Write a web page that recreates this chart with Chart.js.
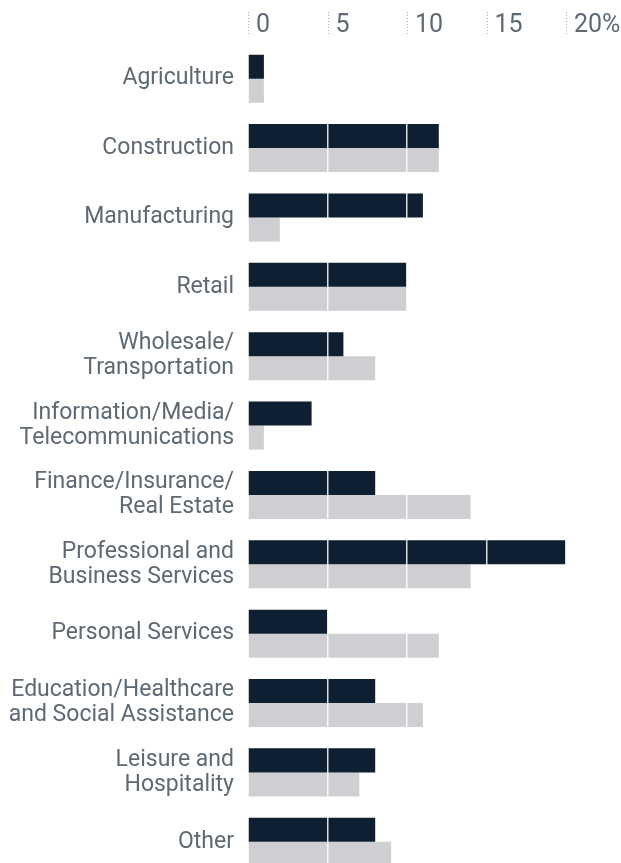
<!DOCTYPE html>
<html>
<head>
<meta charset="utf-8">
<script src="https://cdn.jsdelivr.net/npm/chart.js@4/dist/chart.umd.min.js"></script>
<style>
  html, body { margin: 0; padding: 0; background: #fff; overflow: hidden; }
  #wrap { position: relative; width: 621px; height: 903px; }
</style>
</head>
<body>
<div id="wrap"><canvas id="chart"></canvas></div>
<script>
const categories = [
  "Agriculture",
  "Construction",
  "Manufacturing",
  "Retail",
  ["Wholesale/", "Transportation"],
  ["Information/Media/", "Telecommunications"],
  ["Finance/Insurance/", "Real Estate"],
  ["Professional and", "Business Services"],
  "Personal Services",
  ["Education/Healthcare", "and Social Assistance"],
  ["Leisure and", "Hospitality"],
  "Other"
];

const darkValues = [1, 12, 11, 10, 6, 4, 8, 20, 5, 8, 8, 8];
const grayValues = [1, 12, 2, 10, 8, 1, 14, 14, 12, 11, 7, 9];

const xTicks = [0, 5, 10, 15, 20];

const DARK = "#0d1f31";
const GRAY = "#cfced3";
const TEXT = "#5f6973";

// dotted tick marks above the axis labels
const tickMarks = {
  id: "tickMarks",
  afterDraw(chart) {
    const ctx = chart.ctx;
    const x = chart.scales.x;
    ctx.save();
    ctx.strokeStyle = "#a9adb2";
    ctx.lineWidth = 1;
    ctx.setLineDash([1, 2]);
    xTicks.forEach(v => {
      const px = Math.round(x.getPixelForValue(v)) + 0.5;
      ctx.beginPath();
      ctx.moveTo(px, 12);
      ctx.lineTo(px, 35);
      ctx.stroke();
    });
    ctx.restore();
  }
};

new Chart(document.getElementById("chart"), {
  type: "bar",
  data: {
    labels: categories,
    datasets: [
      {
        label: "Group 1",
        data: darkValues,
        backgroundColor: DARK,
        barPercentage: 1,
        categoryPercentage: 0.693
      },
      {
        label: "Group 2",
        data: grayValues,
        backgroundColor: GRAY,
        barPercentage: 1,
        categoryPercentage: 0.693
      }
    ]
  },
  options: {
    indexAxis: "y",
    responsive: true,
    maintainAspectRatio: false,
    animation: false,
    layout: { padding: { top: 8, right: 55, left: 0, bottom: 0 } },
    plugins: {
      legend: { display: false },
      tooltip: { enabled: false }
    },
    scales: {
      x: {
        position: "top",
        min: 0,
        max: 20,
        afterBuildTicks: scale => {
          scale.ticks = xTicks.map(v => ({ value: v }));
        },
        border: { display: false },
        grid: {
          z: 1,
          drawTicks: false,
          lineWidth: 1.5,
          color: c => (c.tick && c.tick.value === 0) ? "rgba(0,0,0,0)" : "rgba(255,255,255,0.85)"
        },
        ticks: {
          align: "start",
          labelOffset: 8,
          padding: 3,
          color: TEXT,
          font: { family: "Roboto", size: 25 },
          callback: v => v === 20 ? "20%" : String(v)
        }
      },
      y: {
        afterFit: scale => { scale.width = 248; },
        border: { display: false },
        grid: { display: false, drawTicks: false },
        ticks: {
          padding: 14,
          color: TEXT,
          font: { family: "Roboto", size: 23, lineHeight: 1.09 }
        }
      }
    }
  },
  plugins: [tickMarks]
});
</script>
</body>
</html>
